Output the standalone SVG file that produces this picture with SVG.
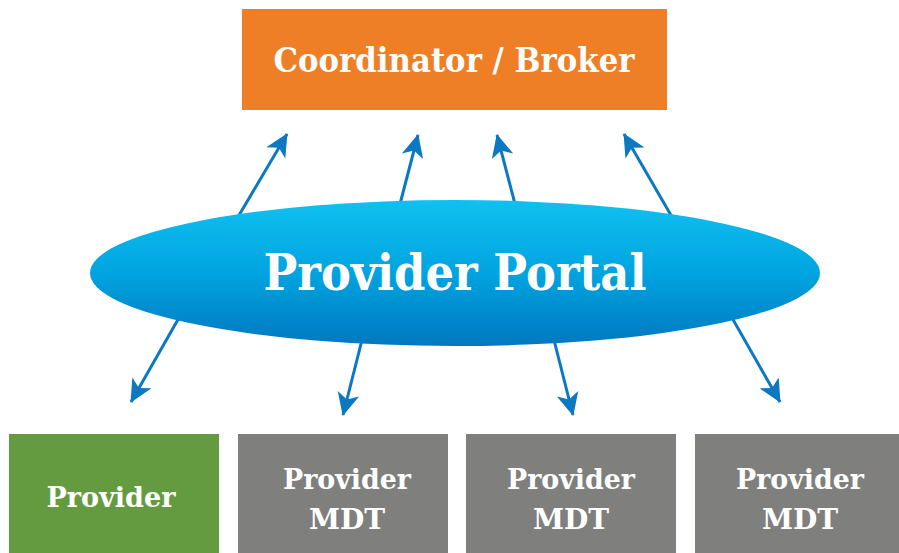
<svg xmlns="http://www.w3.org/2000/svg" width="899" height="553" viewBox="0 0 899 553">
<style>
.lbl{font-family:"DejaVu Serif","Liberation Serif",serif;font-weight:bold;fill:#fff;text-anchor:middle}
.conn{stroke:#0A78C2;stroke-width:3;fill:none;marker-end:url(#ah)}
</style>
<defs>
<linearGradient id="eg" x1="0" y1="0" x2="0" y2="1">
<stop offset="0" stop-color="#10C0F0"/>
<stop offset="0.5" stop-color="#00A4E0"/>
<stop offset="1" stop-color="#0078C0"/>
</linearGradient>
<marker id="ah" viewBox="0 0 24 24" refX="22" refY="12" markerWidth="24" markerHeight="24" markerUnits="userSpaceOnUse" orient="auto">
<path d="M0,1 L23,12 L0,23 L6,12 Z" fill="#0A78C2"/>
</marker>
</defs>
<rect width="899" height="553" fill="#fff"/>
<g id="connectors">
<line class="conn" x1="238" y1="217" x2="287" y2="134"/>
<line class="conn" x1="400" y1="204" x2="418" y2="135"/>
<line class="conn" x1="515" y1="204" x2="497" y2="135"/>
<line class="conn" x1="672" y1="217" x2="624" y2="134"/>
<line class="conn" x1="180" y1="316" x2="131" y2="402"/>
<line class="conn" x1="362" y1="340" x2="343" y2="415"/>
<line class="conn" x1="554" y1="340" x2="573" y2="415"/>
<line class="conn" x1="731" y1="316" x2="780" y2="402"/>
</g>
<g id="coordinator">
<rect x="242" y="9" width="425" height="101" fill="#EE7F26"/>
<text class="lbl" x="454" y="72" font-size="34" textLength="361" lengthAdjust="spacingAndGlyphs">Coordinator / Broker</text>
</g>
<g id="portal">
<ellipse cx="455" cy="273" rx="365" ry="73" fill="url(#eg)"/>
<text class="lbl" x="455" y="290" font-size="50" textLength="383" lengthAdjust="spacingAndGlyphs">Provider Portal</text>
</g>
<g id="provider">
<rect x="9" y="434" width="210" height="119" fill="#659B40"/>
<text class="lbl" x="111" y="507" font-size="28" textLength="129" lengthAdjust="spacingAndGlyphs">Provider</text>
</g>
<g id="mdt1">
<rect x="238" y="434" width="210" height="119" fill="#7F7F7E"/>
<text class="lbl" x="347" y="489" font-size="28" textLength="128" lengthAdjust="spacingAndGlyphs">Provider</text>
<text class="lbl" x="347" y="529" font-size="28">MDT</text>
</g>
<g id="mdt2">
<rect x="466" y="434" width="210" height="119" fill="#7F7F7E"/>
<text class="lbl" x="571" y="489" font-size="28" textLength="128" lengthAdjust="spacingAndGlyphs">Provider</text>
<text class="lbl" x="571" y="529" font-size="28">MDT</text>
</g>
<g id="mdt3">
<rect x="695" y="434" width="204" height="119" fill="#7F7F7E"/>
<text class="lbl" x="800" y="489" font-size="28" textLength="128" lengthAdjust="spacingAndGlyphs">Provider</text>
<text class="lbl" x="800" y="529" font-size="28">MDT</text>
</g>
</svg>
